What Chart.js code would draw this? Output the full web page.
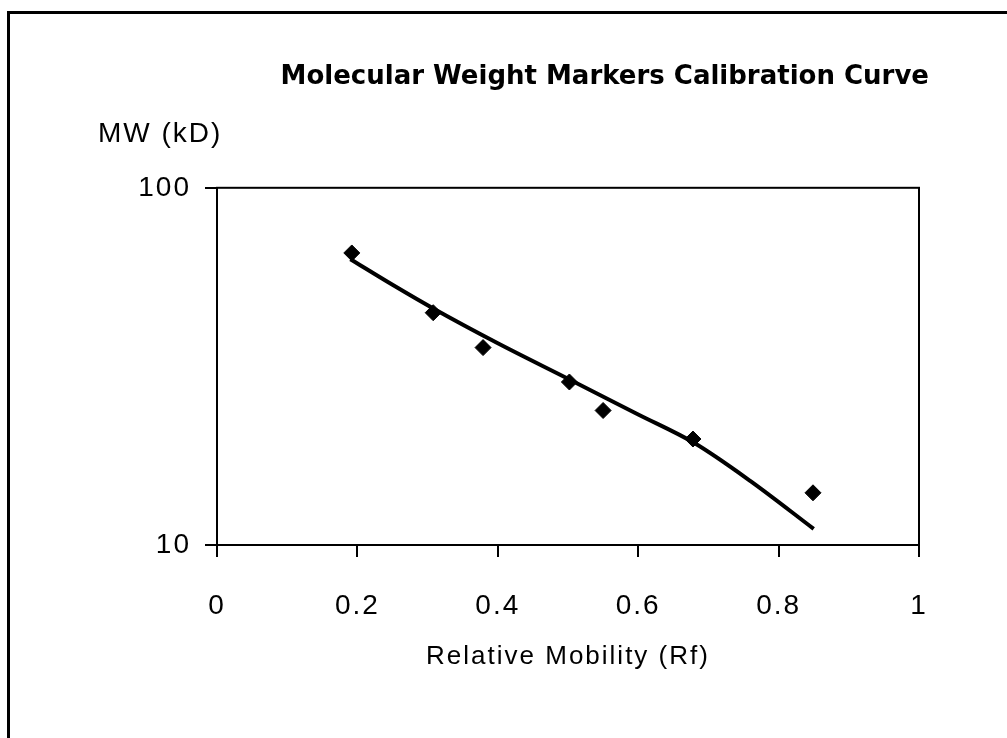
<!DOCTYPE html>
<html>
<head>
<meta charset="utf-8">
<script src="https://cdn.jsdelivr.net/npm/chart.js@4.4.1/dist/chart.umd.min.js"></script>
<style>
  html, body { margin: 0; padding: 0; background: #fff; }
  #wrap { position: relative; width: 1007px; height: 738px; }
  #frame { position: absolute; left: 7px; top: 11px; right: 0; bottom: 0;
           border-left: 3px solid #000; border-top: 3px solid #000; }
  canvas { position: absolute; left: 0; top: 0; }
</style>
</head>
<body>
<div id="wrap">
  <div id="frame"></div>
  <canvas id="chart" width="1007" height="738"></canvas>
</div>
<script>
// marker bands: relative mobility vs molecular weight (kD)
const rfValues = [0.192, 0.308, 0.379, 0.502, 0.550, 0.678, 0.849];
const mwValues = [65.7, 44.7, 35.7, 28.6, 23.8, 19.8, 14.0];

// calibration curve
const curveRf = [0.19, 0.25, 0.31, 0.40, 0.50, 0.60, 0.68, 0.76, 0.85];
const curveMw = [63.1, 53.5, 45.7, 36.7, 29.2, 23.2, 19.3, 15.1, 11.1];

const xTickStep = 0.2;
const yTickValues = [10, 100];
const titleText = 'Molecular Weight Markers Calibration Curve';
const yAxisText = 'MW (kD)';
const xAxisText = 'Relative Mobility (Rf)';

const pts = (xs, ys) => xs.map((x, i) => ({ x: x, y: ys[i] }));

// the printout has loosely tracked text, except the bold title
const TRACK = '2px';
const tracking = {
  id: 'tracking',
  beforeLayout(chart) { chart.ctx.letterSpacing = TRACK; },
  beforeDraw(chart) {
    const ctx = chart.ctx;
    ctx.letterSpacing = TRACK;
    const tb = chart.titleBlock;
    if (tb && !tb._plain) {
      const draw = tb.draw.bind(tb);
      tb.draw = (...a) => { ctx.letterSpacing = '0px'; draw(...a); ctx.letterSpacing = TRACK; };
      tb._plain = true;
    }
  }
};

// box round the plot area
const areaBorder = {
  id: 'areaBorder',
  afterDatasetsDraw(chart) {
    const { ctx, chartArea: a } = chart;
    ctx.save();
    ctx.strokeStyle = '#000';
    ctx.lineWidth = 2;
    ctx.strokeRect(a.left, a.top, a.right - a.left, a.bottom - a.top);
    ctx.restore();
  }
};

const font = 'Liberation Sans, Arial, sans-serif';

new Chart(document.getElementById('chart'), {
  type: 'scatter',
  data: {
    datasets: [
      {
        label: 'Markers',
        data: pts(rfValues, mwValues),
        pointStyle: 'rectRot',
        pointRadius: 8,
        backgroundColor: '#000',
        borderColor: '#000',
        showLine: false
      },
      {
        label: 'Curve',
        type: 'line',
        data: pts(curveRf, curveMw),
        borderColor: '#000',
        borderWidth: 4,
        pointRadius: 0,
        cubicInterpolationMode: 'monotone',
        fill: false
      }
    ]
  },
  options: {
    responsive: false,
    animation: false,
    layout: { padding: { left: 98, right: 78, top: 62, bottom: 0 } },
    plugins: {
      legend: { display: false },
      tooltip: { enabled: false },
      title: {
        display: true,
        text: titleText,
        align: 'end',
        color: '#000',
        font: { family: 'DejaVu Sans', size: 26, weight: 'bold' },
        padding: { top: 0, bottom: 24 }
      },
      subtitle: {
        display: true,
        text: yAxisText,
        align: 'start',
        color: '#000',
        font: { family: font, size: 28 },
        padding: { top: 0, bottom: 37 }
      }
    },
    scales: {
      x: {
        type: 'linear',
        min: 0,
        max: 1,
        afterFit: s => { s.height = 193; },
        ticks: {
          stepSize: xTickStep, color: '#000', padding: 32, font: { family: font, size: 28 },
          callback: v => String(Math.round(v * 10) / 10)
        },
        grid: { drawOnChartArea: false, drawTicks: true, tickLength: 12, color: '#000', lineWidth: 2 },
        border: { display: true, color: '#000', width: 2 },
        title: { display: true, text: xAxisText, color: '#000', font: { family: font, size: 26 }, padding: { top: 0, bottom: 66 } }
      },
      y: {
        type: 'logarithmic',
        min: 10,
        max: 100,
        afterBuildTicks: s => { s.ticks = yTickValues.map(v => ({ value: v })); },
        afterFit: s => { s.width = 119; },
        ticks: { color: '#000', padding: 14, font: { family: font, size: 28 }, callback: v => String(v) },
        grid: { drawOnChartArea: false, drawTicks: true, tickLength: 12, color: '#000', lineWidth: 2 },
        border: { display: true, color: '#000', width: 2 }
      },
      yRight: {
        type: 'linear',
        position: 'right',
        afterFit: s => { s.width = 10; },
        ticks: { display: false },
        grid: { display: false },
        border: { display: false }
      }
    }
  },
  plugins: [tracking, areaBorder]
});
</script>
</body>
</html>
